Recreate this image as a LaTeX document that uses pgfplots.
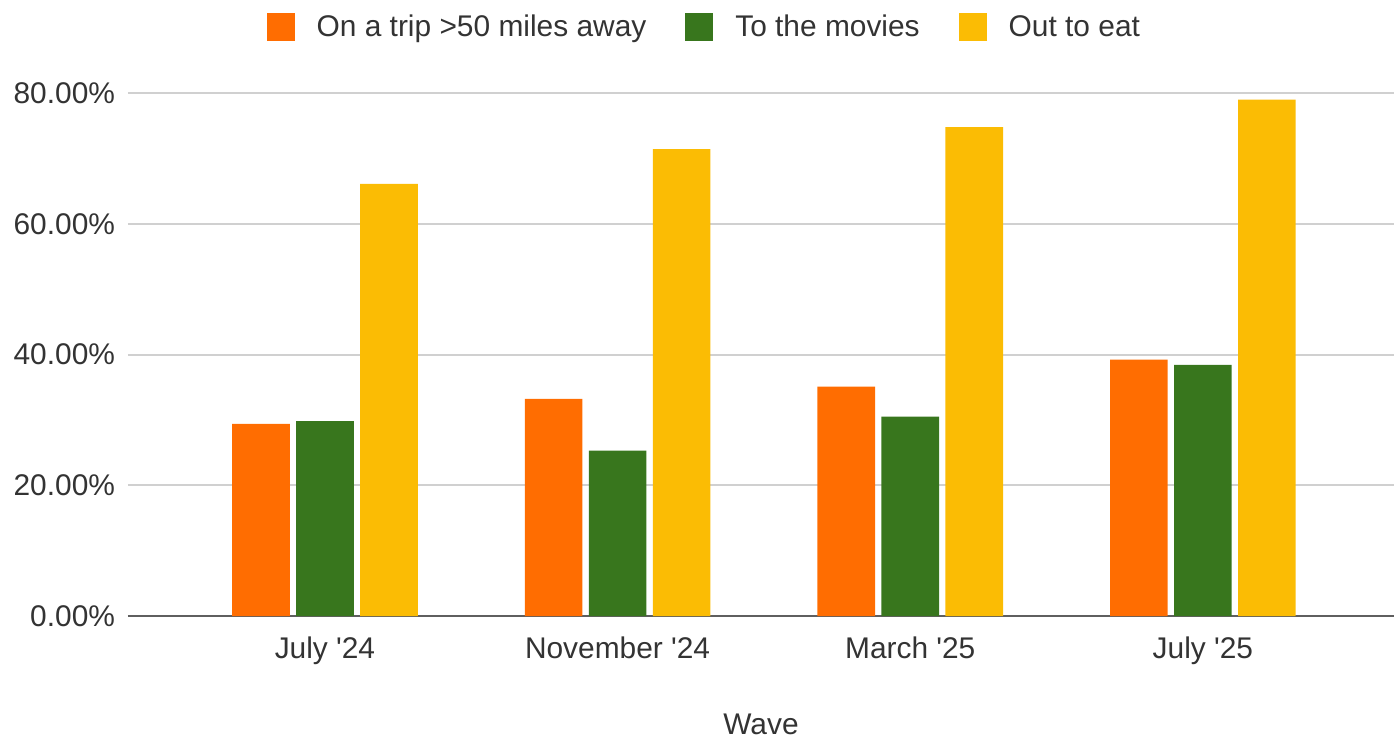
\documentclass[border=0pt]{standalone}
\usepackage{pgfplots}
\pgfplotsset{compat=1.18}
\usepackage{fontspec}
\setmainfont{Liberation Sans}
\definecolor{cOrange}{HTML}{FF6D01}
\definecolor{cGreen}{HTML}{38761D}
\definecolor{cYellow}{HTML}{FBBC04}
\definecolor{cGrid}{HTML}{D0D0D0}
\definecolor{cAxis}{HTML}{5F5F5F}
\definecolor{cText}{HTML}{333333}
\begin{document}
\begin{tikzpicture}
\path[use as bounding box] (-64bp,-61bp) rectangle (633bp,308bp);
\begin{axis}[
  at={(0,0)}, anchor=south west,
  scale only axis, width=633bp, height=261.5bp,
  ybar=3.2bp, bar width=28.8bp,
  xmin=-0.673, xmax=3.653,
  ymin=0, ymax=80,
  xtick={0,1,2,3},
  xticklabels={July \textquotesingle24,November \textquotesingle24,March \textquotesingle25,July \textquotesingle25},
  ytick={0,20,40,60,80},
  yticklabels={0.00\%,20.00\%,40.00\%,60.00\%,80.00\%},
  major tick length=0pt,
  ymajorgrids, grid style={cGrid, line width=1bp},
  axis x line*=bottom, axis y line*=left,
  y axis line style={draw=none},
  x axis line style={cAxis, line width=1.4bp, -},
  tick label style={font=\fontsize{15}{18}\selectfont, text=cText},
  xticklabel style={yshift=-7bp},
  yticklabel style={xshift=-3bp},
  xlabel={Wave},
  xlabel style={font=\fontsize{15}{18}\selectfont, text=cText, at={(axis description cs:0.5,0)}, anchor=base, yshift=-59bp},
  legend columns=3,
  legend style={at={(0.456,1.126)}, anchor=center, draw=none, fill=none,
    font=\fontsize{15}{18}\selectfont, text=cText,
    /tikz/every odd column/.append style={column sep=9bp},
    /tikz/every even column/.append style={column sep=17.5bp}},
  legend image code/.code={\fill[#1] (0bp,-7bp) rectangle (14bp,7bp);},
]
\addplot[fill=cOrange, draw=none] coordinates {(0,29.4) (1,33.2) (2,35.1) (3,39.2)};
\addplot[fill=cGreen, draw=none] coordinates {(0,29.8) (1,25.3) (2,30.5) (3,38.4)};
\addplot[fill=cYellow, draw=none] coordinates {(0,66.1) (1,71.4) (2,74.8) (3,79.0)};
\legend{On a trip >50 miles away, To the movies, Out to eat}
\end{axis}
\end{tikzpicture}
\end{document}
